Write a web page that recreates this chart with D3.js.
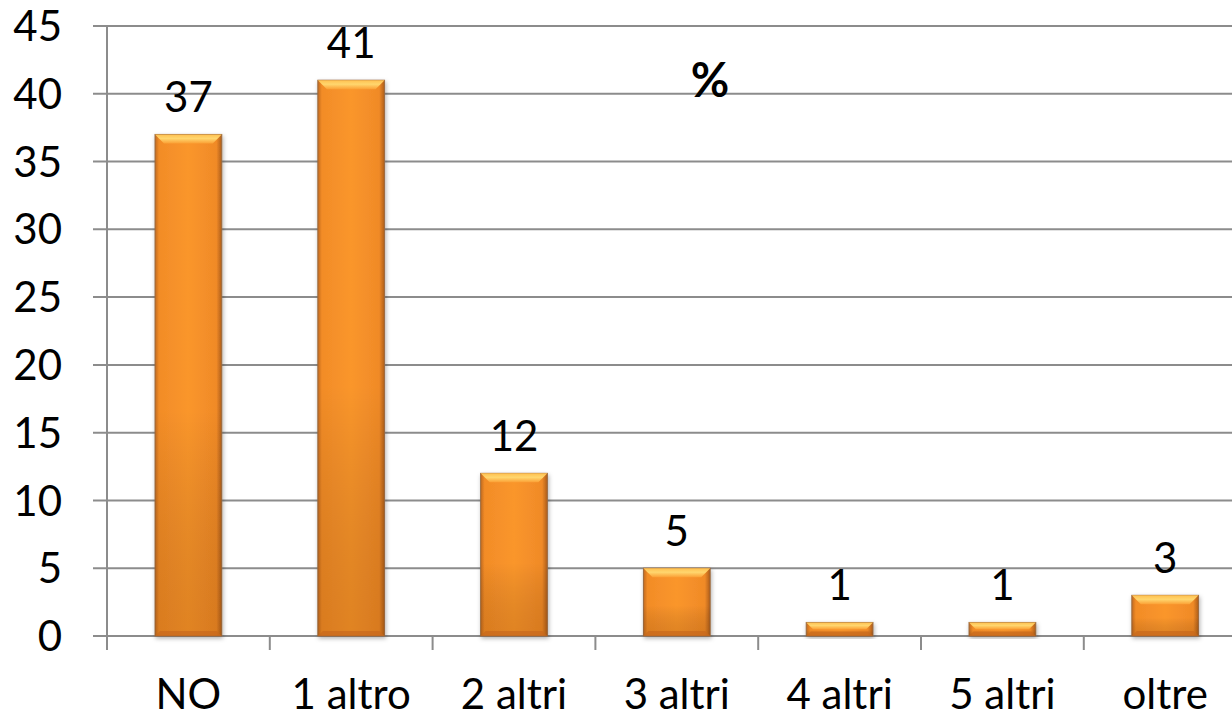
<!DOCTYPE html>
<html>
<head>
<meta charset="utf-8">
<script src="https://cdn.jsdelivr.net/npm/d3@7"></script>
<style>
  html, body { margin: 0; padding: 0; background: #fff; }
  svg { display: block; font-family: Lato, "Open Sans", sans-serif; }
</style>
</head>
<body>
<svg id="chart" width="1232" height="718"></svg>
<script>
// Categories and percentages
const categories = ["NO", "1 altro", "2 altri", "3 altri", "4 altri", "5 altri", "oltre"];
const values = [37, 41, 12, 5, 1, 1, 3];
const yTicks = [0, 5, 10, 15, 20, 25, 30, 35, 40, 45];
const chartTitle = "%";

const svg = d3.select("#chart");
const W = 1232, H = 718;
const plotLeft = 107, plotTop = 26, plotBottom = 636;
const step = 162.8;
const fontSize = 42;

const y = d3.scaleLinear().domain([0, 45]).range([plotBottom, plotTop]);
const x = d3.scaleBand()
  .domain(categories)
  .range([plotLeft, plotLeft + step * categories.length])
  .paddingInner(0.59)
  .paddingOuter(0.295);

const defs = svg.append("defs");

// horizontal shading across each bar: darker rims, bright centre
const gH = defs.append("linearGradient").attr("id", "barH")
  .attr("x1", 0).attr("y1", 0).attr("x2", 1).attr("y2", 0);
[["0%", "#c26a1e"], ["6%", "#f28c27"], ["50%", "#fa962c"], ["92%", "#f08a27"], ["100%", "#ad5d1a"]]
  .forEach(([o, c]) => gH.append("stop").attr("offset", o).attr("stop-color", c));

// vertical darkening toward the base
const gV = defs.append("linearGradient").attr("id", "barV")
  .attr("x1", 0).attr("y1", 0).attr("x2", 0).attr("y2", 1);
[["0%", "#ffffff", 0.0], ["55%", "#000000", 0.0], ["100%", "#7a3a00", 0.2]]
  .forEach(([o, c, a]) => gV.append("stop").attr("offset", o).attr("stop-color", c).attr("stop-opacity", a));

// top bevel highlight
const gTop = defs.append("linearGradient").attr("id", "bevelTop")
  .attr("x1", 0).attr("y1", 0).attr("x2", 0).attr("y2", 1);
[["0%", "#ffc050"], ["45%", "#ffd66e"], ["100%", "#fba035"]]
  .forEach(([o, c]) => gTop.append("stop").attr("offset", o).attr("stop-color", c));

const shadow = defs.append("filter").attr("id", "shadow")
  .attr("x", "-20%").attr("y", "-20%").attr("width", "140%").attr("height", "140%");
shadow.append("feDropShadow").attr("dx", 1).attr("dy", 2).attr("stdDeviation", 2)
  .attr("flood-color", "#000").attr("flood-opacity", 0.3);

// gridlines
svg.append("g").selectAll("line").data(yTicks).join("line")
  .attr("x1", plotLeft - 14).attr("x2", W)
  .attr("y1", d => y(d)).attr("y2", d => y(d))
  .attr("stroke", "#8c8c8c").attr("stroke-width", 2);

// y axis line
svg.append("line")
  .attr("x1", plotLeft).attr("x2", plotLeft)
  .attr("y1", y(45)).attr("y2", plotBottom + 14)
  .attr("stroke", "#8c8c8c").attr("stroke-width", 2);

// x axis tick marks at band boundaries
const boundaries = d3.range(1, categories.length).map(i => plotLeft + i * x.step());
svg.append("g").selectAll("line").data(boundaries).join("line")
  .attr("x1", d => d).attr("x2", d => d)
  .attr("y1", plotBottom).attr("y2", plotBottom + 14)
  .attr("stroke", "#8c8c8c").attr("stroke-width", 2);

// y tick labels
svg.append("g").selectAll("text").data(yTicks).join("text")
  .attr("x", 62).attr("y", d => y(d))
  .attr("dy", "0.36em")
  .attr("text-anchor", "end")
  .attr("font-size", fontSize)
  .attr("fill", "#000")
  .text(d => d);

// category labels
svg.append("g").selectAll("text").data(categories).join("text")
  .attr("x", d => x(d) + x.bandwidth() / 2)
  .attr("y", 709)
  .attr("text-anchor", "middle")
  .attr("font-size", fontSize)
  .attr("fill", "#000")
  .text(d => d);

// bars
const data = categories.map((c, i) => ({ c, v: values[i] }));
const bars = svg.append("g").selectAll("g").data(data).join("g");
const bw = x.bandwidth();

bars.append("rect")
  .attr("x", d => x(d.c)).attr("y", d => y(d.v))
  .attr("width", bw).attr("height", d => plotBottom - y(d.v))
  .attr("fill", "url(#barH)")
  .attr("stroke", "#9a6a40").attr("stroke-width", 1)
  .attr("filter", "url(#shadow)");

bars.append("rect")
  .attr("x", d => x(d.c)).attr("y", d => y(d.v))
  .attr("width", bw).attr("height", d => plotBottom - y(d.v))
  .attr("fill", "url(#barV)");

// top bevel
bars.append("path")
  .attr("d", d => {
    const x0 = x(d.c), x1 = x0 + bw, t = y(d.v);
    const b = Math.min(9, (plotBottom - t) / 2);
    return `M${x0},${t}L${x1},${t}L${x1 - b},${t + b}L${x0 + b},${t + b}Z`;
  })
  .attr("fill", "url(#bevelTop)");

// bottom bevel
bars.append("path")
  .attr("d", d => {
    const x0 = x(d.c), x1 = x0 + bw, t = y(d.v);
    const b = Math.min(5, (plotBottom - t) / 3);
    return `M${x0},${plotBottom}L${x1},${plotBottom}L${x1 - b},${plotBottom - b}L${x0 + b},${plotBottom - b}Z`;
  })
  .attr("fill", "#c8681c").attr("opacity", 0.7);

// value labels
bars.append("text")
  .attr("x", d => x(d.c) + bw / 2)
  .attr("y", d => y(d.v) - 22)
  .attr("text-anchor", "middle")
  .attr("font-size", fontSize)
  .attr("fill", "#000")
  .text(d => d.v);

// chart title
svg.append("text")
  .attr("x", 710).attr("y", 97)
  .attr("text-anchor", "middle")
  .attr("font-size", 47)
  .attr("font-weight", "bold")
  .attr("fill", "#000")
  .text(chartTitle);
</script>
</body>
</html>
